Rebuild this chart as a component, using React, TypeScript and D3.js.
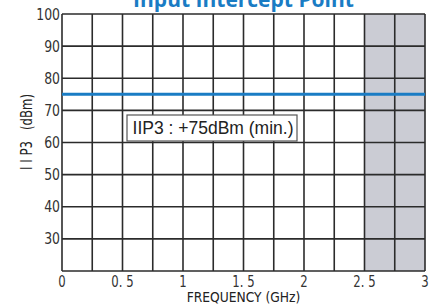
import * as d3 from "d3";
import { FC } from "react";

const X_TICKS: number[] = [0, 0.5, 1, 1.5, 2, 2.5, 3];
const X_TICK_LABELS: string[] = ["0", "0. 5", "1", "1. 5", "2", "2. 5", "3"];
const X_GRID: number[] = [0, 0.25, 0.5, 0.75, 1, 1.25, 1.5, 1.75, 2, 2.25, 2.5, 2.75, 3];
const Y_TICKS: number[] = [30, 40, 50, 60, 70, 80, 90, 100];
const Y_GRID: number[] = [20, 30, 40, 50, 60, 70, 80, 90, 100];
const SHADED: [number, number] = [2.5, 3];
const IIP3_FREQ: number[] = [0, 3];
const IIP3_VALUES: number[] = [75, 75];

const W = 438;
const H = 305;
const M = { top: 14, right: 13, bottom: 34, left: 62 };

const App: FC = () => {
  const x = d3.scaleLinear().domain([0, 3]).range([M.left, W - M.right]);
  const y = d3.scaleLinear().domain([20, 100]).range([H - M.bottom, M.top]);
  const line = d3
    .line<number>()
    .x((_, i) => x(IIP3_FREQ[i]))
    .y((d) => y(d));
  const narrow = "'DejaVu Sans', sans-serif";

  return (
    <svg
      width={W}
      height={H}
      style={{ position: "absolute", left: 0, top: 0, background: "#fff" }}
    >
      <rect
        x={x(SHADED[0])}
        y={y(100)}
        width={x(SHADED[1]) - x(SHADED[0])}
        height={y(20) - y(100)}
        fill="#cbccd4"
      />
      {X_GRID.map((v) => (
        <line
          key={"x" + v}
          x1={x(v)}
          x2={x(v)}
          y1={y(20)}
          y2={y(100)}
          stroke="#2b2b2b"
          strokeWidth={1.6}
        />
      ))}
      {Y_GRID.map((v) => (
        <line
          key={"y" + v}
          x1={x(0)}
          x2={x(3)}
          y1={y(v)}
          y2={y(v)}
          stroke="#2b2b2b"
          strokeWidth={1.6}
        />
      ))}
      <path
        d={line(IIP3_VALUES) || ""}
        fill="none"
        stroke="#1a7cc4"
        strokeWidth={3}
      />
      <rect x={127} y={115} width={170} height={26} fill="#fff" stroke="#555" strokeWidth={1.2} />
      <text
        x={213}
        y={134}
        textAnchor="middle"
        fontFamily="'Liberation Sans', Arial, sans-serif"
        fontSize={17.5}
        fill="#222"
      >
        IIP3 : +75dBm (min.)
      </text>
      {Y_TICKS.map((v) => (
        <text
          key={"yt" + v}
          transform={`translate(${x(0) - 2}, ${y(v) + 5.5}) scale(0.78, 1)`}
          textAnchor="end"
          fontFamily={narrow}
          fontSize={16}
          fill="#333"
        >
          {v}
        </text>
      ))}
      {X_TICKS.map((v, i) => (
        <text
          key={"xt" + v}
          transform={`translate(${x(v)}, 287) scale(0.78, 1)`}
          textAnchor="middle"
          fontFamily={narrow}
          fontSize={15}
          fill="#333"
          style={{ whiteSpace: "pre" }}
        >
          {X_TICK_LABELS[i]}
        </text>
      ))}
      <text
        transform={`translate(${(x(0) + x(3)) / 2}, 302) scale(0.88, 1)`}
        textAnchor="middle"
        fontFamily={narrow}
        fontSize={14}
        fill="#222"
      >
        FREQUENCY (GHz)
      </text>
      <text
        transform={`translate(32, 132) rotate(-90) scale(0.78, 1)`}
        textAnchor="middle"
        fontFamily={narrow}
        fontSize={15}
        fill="#222"
        style={{ whiteSpace: "pre" }}
      >
        {"I I P3   (dBm)"}
      </text>
      <text
        x={(x(0) + x(3)) / 2}
        y={7}
        textAnchor="middle"
        fontFamily="'Open Sans', 'Liberation Sans', sans-serif"
        fontWeight="bold"
        fontSize={21}
        fill="#1a7cc4"
      >
        Input Intercept Point
      </text>
    </svg>
  );
};

export default App;
